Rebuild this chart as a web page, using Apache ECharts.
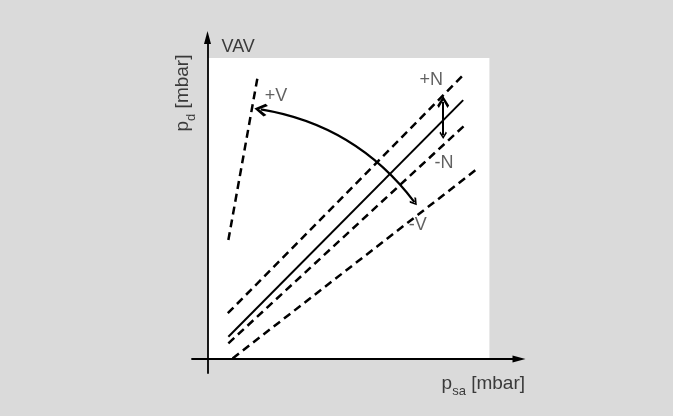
<!DOCTYPE html>
<html>
<head>
<meta charset="utf-8">
<script src="https://cdn.jsdelivr.net/npm/echarts@6/dist/echarts.min.js"></script>
<style>
  html, body { margin: 0; padding: 0; background: #dadada; }
  #chart { width: 673px; height: 416px; }
</style>
</head>
<body>
<div id="chart"></div>
<script>
// characteristic lines (schematic units, white field = 0..100)
const plotArea = [[0, 0], [100, 100]];
const solidLine = [[7.4, 7.4], [90.7, 86.0]];
const plusNLine = [[7.2, 15.2], [91.3, 94.9]];
const minusNLine = [[7.4, 5.2], [91.3, 77.7]];
const minusVLine = [[8.9, 0.2], [96.0, 63.4]];
const plusVLine = [[7.4, 39.5], [17.7, 93.3]];
// arrows
const vArc = [[18.9, 82.9], [73.4, 52.1]];
const nArrow = [[83.6, 85.4], [83.6, 74.3]];
// annotations
const labelNames = ['+V', '+N', '-N', '-V'];
const labelPos = [[24.3, 87.4], [79.4, 92.7], [83.9, 65.1], [74.6, 44.5]];

const textColor = '#3a3a3a';
const font = 'Liberation Sans';
const chevron = 'path://M5,0 L10,6.4 L8.6,8 L5,3 L1.4,8 L0,6.4 Z';
const rich = {
    sub: { fontSize: 13, fontFamily: font, color: textColor, padding: [16, 0, 0, 0] }
};

const chart = echarts.init(document.getElementById('chart'));

function dashed(data) {
    return {
        type: 'line', data: data, showSymbol: false, silent: true, z: 3,
        lineStyle: { color: '#000', width: 2.5, type: [8, 5] }
    };
}

chart.setOption({
    backgroundColor: '#dadada',
    animation: false,
    grid: { left: 192, right: 154, top: 37.5, bottom: 43 },
    xAxis: {
        type: 'value', min: -5.5, max: 110.5, z: 10,
        axisLine: { onZero: true, symbol: ['none', 'triangle'], symbolSize: [7, 13],
            lineStyle: { color: '#000', width: 1.8 } },
        axisTick: { show: false }, axisLabel: { show: false }, splitLine: { show: false },
        name: 'p{sub|sa} [mbar]', nameLocation: 'end', nameGap: 6,
        nameTextStyle: { align: 'right', verticalAlign: 'top', padding: [10, 0, 0, 0],
            fontSize: 19, fontFamily: font, color: textColor, rich: rich }
    },
    yAxis: {
        type: 'value', min: -4.65, max: 106.8, z: 10,
        axisLine: { onZero: true, symbol: ['none', 'triangle'], symbolSize: [7, 13],
            lineStyle: { color: '#000', width: 1.8 } },
        axisTick: { show: false }, axisLabel: { show: false }, splitLine: { show: false },
        name: 'VAV', nameLocation: 'end', nameGap: -10,
        nameTextStyle: { align: 'left', verticalAlign: 'middle', padding: [0, 0, 0, 14],
            fontSize: 18, fontFamily: font, color: textColor }
    },
    graphic: [{
        type: 'text', x: 183, y: 93, rotation: Math.PI / 2,
        style: { text: 'p{sub|d} [mbar]', fontSize: 19, fontFamily: font, fill: textColor,
            align: 'center', verticalAlign: 'middle', rich: rich }
    }],
    series: [
        {
            type: 'line', data: [], silent: true, z: 1,
            markArea: { silent: true, itemStyle: { color: '#fff', borderWidth: 0 },
                data: [[{ coord: plotArea[0] }, { coord: plotArea[1] }]] }
        },
        {
            type: 'line', data: solidLine, showSymbol: false, silent: true, z: 3,
            lineStyle: { color: '#000', width: 2 }
        },
        dashed(plusNLine),
        dashed(minusNLine),
        dashed(minusVLine),
        dashed(plusVLine),
        {
            type: 'lines', coordinateSystem: 'cartesian2d', silent: true, z: 4,
            symbol: [chevron, chevron], symbolSize: [13, 8],
            itemStyle: { color: '#000' },
            lineStyle: { color: '#000', width: 2.2, opacity: 1, curveness: 0.2 },
            data: [{ coords: vArc }]
        },
        {
            type: 'lines', coordinateSystem: 'cartesian2d', silent: true, z: 4,
            symbol: [chevron, chevron], symbolSize: [12, 7.5],
            itemStyle: { color: '#000' },
            lineStyle: { color: '#000', width: 2, opacity: 1, curveness: 0 },
            data: [{ coords: nArrow }]
        },
        {
            type: 'scatter', silent: true, symbolSize: 1, z: 5,
            itemStyle: { color: 'transparent' },
            label: { show: true, position: 'inside', formatter: '{b}',
                fontSize: 18, fontFamily: font, color: textColor },
            data: labelNames.map((n, i) => ({ name: n, value: labelPos[i] }))
        }
    ]
});
</script>
</body>
</html>
